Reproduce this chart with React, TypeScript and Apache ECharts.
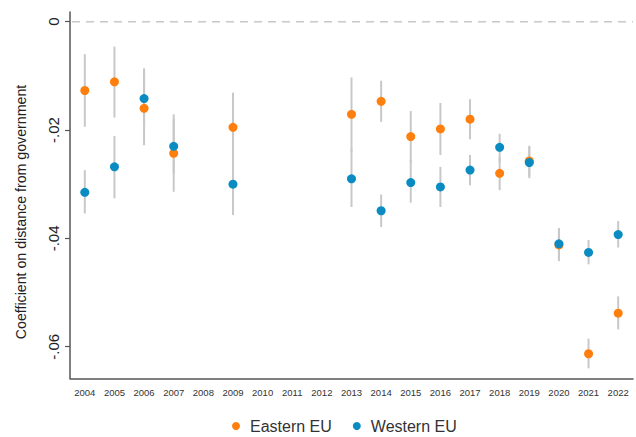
import React, { useEffect, useRef } from "react";
import * as echarts from "echarts";

const years = ["2004","2005","2006","2007","2008","2009","2010","2011","2012","2013","2014","2015","2016","2017","2018","2019","2020","2021","2022"];

const eastern = [-0.0127, -0.0111, -0.0160, -0.0243, null, -0.0195, null, null, null, -0.0171, -0.0147, -0.0212, -0.0198, -0.0180, -0.0280, -0.0257, -0.0412, -0.0613, -0.0538];
const easternHi = [-0.0060, -0.0046, -0.0086, -0.0171, null, -0.0131, null, null, null, -0.0103, -0.0109, -0.0165, -0.0150, -0.0143, -0.0250, -0.0229, -0.0381, -0.0585, -0.0507];
const easternLo = [-0.0194, -0.0177, -0.0228, -0.0314, null, -0.0260, null, null, null, -0.0240, -0.0185, -0.0260, -0.0246, -0.0217, -0.0311, -0.0285, -0.0442, -0.0640, -0.0568];

const western = [-0.0315, -0.0268, -0.0142, -0.0230, null, -0.0300, null, null, null, -0.0290, -0.0349, -0.0297, -0.0305, -0.0274, -0.0232, -0.0260, -0.0410, -0.0426, -0.0393];
const westernHi = [-0.0274, -0.0211, -0.0095, -0.0180, null, -0.0245, null, null, null, -0.0235, -0.0319, -0.0255, -0.0268, -0.0246, -0.0207, -0.0231, -0.0382, -0.0403, -0.0368];
const westernLo = [-0.0354, -0.0326, -0.0190, -0.0280, null, -0.0357, null, null, null, -0.0342, -0.0379, -0.0334, -0.0342, -0.0302, -0.0260, -0.0289, -0.0438, -0.0448, -0.0417];

const yTicks = [0, -0.02, -0.04, -0.06];
const refLine = [0];

const FONT = '"Liberation Sans", Arial, Helvetica, sans-serif';
const AXIS_COLOR = "#555555";
const CI_COLOR = "#c8c8c8";
const ORANGE = "#ff7f0e";
const BLUE = "#0a8cc2";

function ciData(lo: (number | null)[], hi: (number | null)[]) {
  const out: number[][] = [];
  lo.forEach((l, i) => {
    const h = hi[i];
    if (l !== null && h !== null) out.push([i, l, h]);
  });
  return out;
}

function renderCI(params: any, api: any) {
  const p1 = api.coord([api.value(0), api.value(1)]);
  const p2 = api.coord([api.value(0), api.value(2)]);
  return {
    type: "line",
    shape: { x1: p1[0], y1: p1[1], x2: p2[0], y2: p2[1] },
    style: { stroke: CI_COLOR, lineWidth: 2 },
  };
}

function renderRef(params: any, api: any) {
  const cs = params.coordSys;
  const p = api.coord([0, api.value(0)]);
  return {
    type: "line",
    shape: { x1: cs.x + 2, y1: p[1], x2: cs.x + cs.width, y2: p[1] },
    style: { stroke: "#c8c8c8", lineWidth: 1.5, lineDash: [8, 6] },
  };
}

export default function App() {
  const ref = useRef<HTMLDivElement>(null);
  useEffect(() => {
    if (!ref.current) return;
    const chart = echarts.init(ref.current, null, { renderer: "svg" });
    chart.setOption({
      animation: false,
      textStyle: { fontFamily: FONT },
      grid: { left: 70, right: 3, top: 12, bottom: 58.7, containLabel: false },
      legend: {
        data: ["Eastern EU", "Western EU"],
        left: 227,
        top: 413,
        icon: "circle",
        itemWidth: 18,
        itemHeight: 8,
        itemGap: 21,
        textStyle: { fontSize: 16, color: "#333333", fontFamily: FONT },
      },
      graphic: [
        {
          type: "text",
          x: 21,
          y: 212,
          rotation: Math.PI / 2,
          style: {
            text: "Coefficient on distance from government",
            fontSize: 14.2,
            fontFamily: FONT,
            fill: "#222222",
            align: "center",
            verticalAlign: "middle",
          },
        },
      ],
      xAxis: {
        type: "category",
        data: years,
        boundaryGap: true,
        axisLine: { onZero: false, lineStyle: { color: AXIS_COLOR, width: 1.5 } },
        axisTick: { alignWithLabel: true, length: 5, lineStyle: { color: AXIS_COLOR, width: 1.2 } },
        axisLabel: { fontSize: 9.5, color: "#333333", margin: 9, interval: 0, fontFamily: '"Liberation Sans Narrow", "Arial Narrow", ' + FONT },
        splitLine: { show: false },
      },
      yAxis: {
        type: "value",
        min: -0.06583,
        max: 0.00179,
        axisLine: { show: true, onZero: false, lineStyle: { color: AXIS_COLOR, width: 1.5 } },
        axisTick: { show: true, length: 5, customValues: yTicks, lineStyle: { color: AXIS_COLOR, width: 1.2 } },
        axisLabel: {
          rotate: 90,
          fontSize: 15,
          color: "#222222",
          margin: 9,
          customValues: yTicks,
          formatter: (v: number) => (Math.abs(v) < 1e-9 ? "0" : v.toFixed(2).replace("0.", ".")),
        },
        splitLine: { show: false },
      },
      series: [
        {
          name: "zeroLine",
          type: "custom",
          renderItem: renderRef,
          data: refLine.map((v) => [v]),
          encode: { y: 0 },
          z: 0,
          silent: true,
        },
        {
          name: "eastCI",
          type: "custom",
          renderItem: renderCI,
          data: ciData(easternLo, easternHi),
          encode: { x: 0, y: [1, 2] },
          z: 1,
          silent: true,
        },
        {
          name: "westCI",
          type: "custom",
          renderItem: renderCI,
          data: ciData(westernLo, westernHi),
          encode: { x: 0, y: [1, 2] },
          z: 1,
          silent: true,
        },
        {
          name: "Eastern EU",
          type: "scatter",
          data: eastern,
          symbol: "circle",
          symbolSize: 9,
          itemStyle: { color: ORANGE, opacity: 1 },
          z: 2,
        },
        {
          name: "Western EU",
          type: "scatter",
          data: western,
          symbol: "circle",
          symbolSize: 9,
          itemStyle: { color: BLUE, opacity: 1 },
          z: 3,
        },
      ],
    });
    return () => chart.dispose();
  }, []);
  return (
    <div
      ref={ref}
      style={{ position: "absolute", left: 0, top: 0, width: 636, height: 437, background: "#ffffff" }}
    />
  );
}
